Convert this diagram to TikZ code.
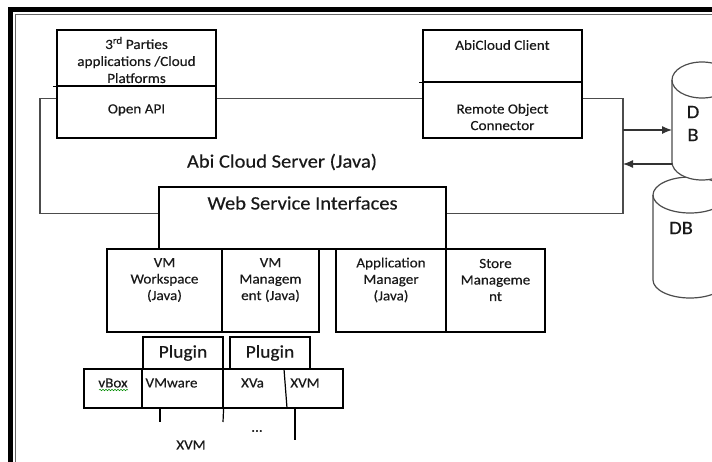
\documentclass[tikz,border=0pt]{standalone}
\usepackage{fontspec}
\setmainfont{Carlito}[FakeStretch=1.08, FakeBold=0.35]
\usetikzlibrary{arrows.meta,decorations.pathmorphing}
\begin{document}
\begin{tikzpicture}[x=1pt,y=-1pt,
  box/.style={draw=black, line width=1.2pt, rectangle, inner sep=0pt},
  bnd/.style={draw=black!70, line width=1.2pt},
  sm/.style={inner sep=0pt, align=center, font=\fontsize{14}{16.5}\selectfont, text=black!90},
  lg/.style={inner sep=0pt, align=center, font=\fontsize{19}{23}\selectfont, text=black!90},
  arr/.style={draw=black!80, line width=1.2pt, -{Latex[length=10pt,width=8pt]}},
  cyl/.style={draw=black!70, line width=1.2pt, fill=white}]
\path[use as bounding box] (0,0) rectangle (712,461);
\clip (0,0) rectangle (712,461);
\fill[white] (0,0) rectangle (712,461);
% frame
\draw[line width=4.5pt, black] (10.5,470) -- (10.5,9.5) -- (720,9.5);
\draw[line width=1.5pt, black!60] (15.5,470) -- (15.5,14.5) -- (720,14.5);

% upper boxes
\node[box, minimum width=159pt, minimum height=56pt] (tp) at (136.5,58) {};
\node[box, minimum width=159pt, minimum height=52pt] (api) at (136.5,112) {};
\draw[line width=1.2pt] ([xshift=-3pt]tp.south west) -- (tp.south east);
\node[box, minimum width=159pt, minimum height=52pt] (cl) at (502.5,56) {};
\node[box, minimum width=159pt, minimum height=56pt] (roc) at (502.5,110) {};
\draw[line width=1.2pt] ([xshift=-3pt]cl.south west) -- (cl.south east);

\node[sm, font=\fontsize{14}{17}\selectfont] (t1) at (136.5,60) {3\textsuperscript{rd} Parties\\applications /Cloud\\Platforms};
\node[sm] (t2) at (136.5,110) {Open API};
\node[sm] (t3) at (502.5,45) {AbiCloud Client};
\node[sm] (t4) at (502.5,117) {Remote Object\\Connector};

% web service
\node[box, minimum width=287pt, minimum height=62pt] (ws) at (302.5,218) {};
\node[lg] (t6) at (302.5,203) {Web Service Interfaces};
\node[lg] (t5) at (282,162) {Abi Cloud Server (Java)};

% server boundary
\coordinate (yb) at (0,98.5);
\coordinate (lc) at (40,213.5);
\coordinate (rc) at (623,213.5);
\draw[bnd] (api.west |- yb) -| (lc) -- (ws.west |- lc);
\draw[bnd] (api.east |- yb) -- (roc.west |- yb);
\draw[bnd] (roc.east |- yb) -| (rc) -- (ws.east |- rc);

% lower boxes
\node[box, minimum width=115pt, minimum height=83pt] (vmw) at (164.5,290.5) {};
\node[box, minimum width=97pt, minimum height=83pt] (vmm) at (270.5,290.5) {};
\node[box, minimum width=110pt, minimum height=83pt] (am) at (391,290.5) {};
\node[box, minimum width=99pt, minimum height=83pt] (smg) at (495.5,290.5) {};
\node[sm] (t7) at (164.5,280) {VM\\Workspace\\(Java)};
\node[sm] (t8) at (270.5,280) {VM\\Managem\\ent (Java)};
\node[sm] (t9) at (391,280) {Application\\Manager\\(Java)};
\node[sm] (t10) at (495.5,280) {Store\\Manageme\\nt};

% plugins
\node[box, minimum width=80pt, minimum height=32pt] (pl1) at (183,353) {};
\node[box, minimum width=80pt, minimum height=32pt] (pl2) at (270,353) {};
\node[lg, font=\fontsize{18}{22}\selectfont] (p1) at (183,353) {Plugin};
\node[lg, font=\fontsize{18}{22}\selectfont] (p2) at (270,353) {Plugin};

% hypervisors
\node[box, minimum width=58pt, minimum height=39pt] (vb) at (113,388.5) {};
\node[box, minimum width=81pt, minimum height=39pt] (vmx) at (182.5,388.5) {};
\node[box, minimum width=120pt, minimum height=39pt] (xx) at (283,388.5) {};
\draw[line width=1.2pt] (284,369) -- (287,408);
\node[sm] (h1) at (113,383) {vBox};
\draw[green!55!black, line width=0.5pt, decorate, decoration={snake, amplitude=0.8pt, segment length=3pt}] (99,390) -- (128,390);
\node[sm] (h2) at (171.5,383) {VMware};
\node[sm] (h3) at (252.5,383) {XVa};
\node[sm] (h4) at (305,383) {XVM};

% lines below
\coordinate (e1) at (160,422);
\coordinate (e2) at (223,422);
\coordinate (e3) at (295,440);
\draw[line width=1.2pt] (vmx.south -| e1) -- (e1);
\draw[line width=1.2pt] (vmx.south east) -- (e2);
\draw[line width=1.2pt] (xx.south -| e3) -- (e3);
\node[sm] (dots) at (257,431) {...};
\node[sm] (x2) at (191,445) {XVM};

% databases
\draw[cyl] (653,195) -- (653,280) arc[start angle=180, end angle=0, x radius=37, y radius=18] -- (727,195) arc[start angle=0, end angle=-180, x radius=37, y radius=18] -- cycle;
\draw[cyl, fill=none] (653,195) arc[start angle=180, end angle=0, x radius=37, y radius=18];
\draw[cyl] (672,80) -- (672,162) arc[start angle=180, end angle=0, x radius=30, y radius=18] -- (732,80) arc[start angle=0, end angle=-180, x radius=30, y radius=18] -- cycle;
\draw[cyl, fill=none] (672,80) arc[start angle=180, end angle=0, x radius=30, y radius=18];
\coordinate (db1w) at (672,121);
\node[lg] (d1) at (693,112) {D};
\node[lg] (d2) at (693,135) {B};
\node[lg] (d3) at (681,228) {DB};

% arrows
\coordinate (a1) at (623,130);
\coordinate (a2) at (623,164);
\draw[arr] (a1) -- (db1w |- a1);
\draw[arr] (db1w |- a2) -- (a2);
\end{tikzpicture}
\end{document}
